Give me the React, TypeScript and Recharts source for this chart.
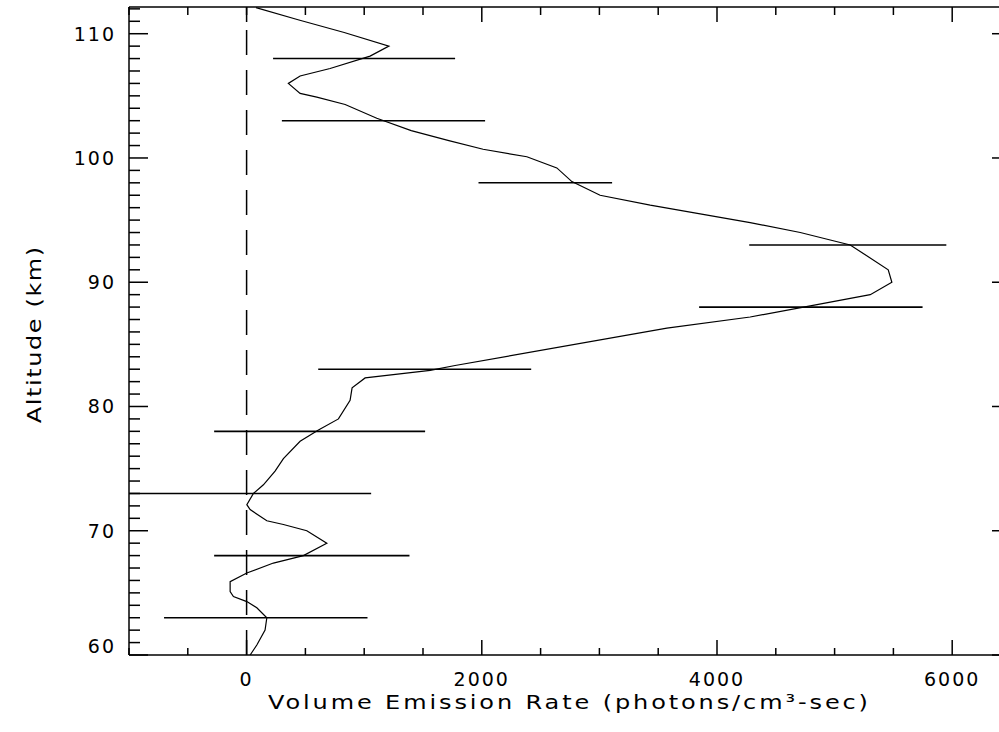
import React from "react"
import { ComposedChart, Scatter, XAxis, YAxis, ReferenceLine } from "recharts"

// volume emission profile, read top to bottom
const altitude = [
  112.1, 111.1, 110.1, 109.0, 108.2, 107.2, 106.6, 106.0, 105.2, 104.9, 104.3, 103.2,
  102.2, 101.4, 100.7, 100.1, 99.2, 98.1, 97.0, 96.2, 95.5, 94.8, 94.0, 93.4, 93.0,
  91.0, 90.0, 89.0, 88.2, 87.2, 86.3, 83.3, 82.9, 82.3, 81.5, 80.5, 79.0, 78.1, 77.2,
  75.8, 74.8, 73.7, 73.0, 72.1, 71.7, 70.8, 70.5, 70.0, 69.0, 68.0, 67.4, 66.6, 65.9,
  65.1, 64.7, 64.3, 63.8, 63.0, 62.0, 60.8, 60.0,
]
const emission = [
  80, 445, 830, 1210, 1050, 710, 455, 355, 455, 597, 838, 1107,
  1400, 1720, 2011, 2383, 2638, 2766, 3006, 3432, 3857, 4282, 4708, 4963, 5133,
  5456, 5487, 5303, 4850, 4282, 3574, 1773, 1561, 1008, 897, 880, 781, 611, 455,
  313, 242, 143, 58, 2, 30, 172, 313, 512, 682, 483, 228, 2, -140,
  -140, -112, 2, 87, 172, 157, 87, 30,
]

// horizontal error bars
const barAltitude = [108, 103, 98, 93, 88, 83, 78, 73, 68, 63]
const barLow = [225, 300, 1972, 4274, 3848, 609, -276, -1100, -276, -702]
const barHigh = [1773, 2028, 3108, 5950, 5748, 2420, 1518, 1059, 1385, 1028]

const xTicks = [-1000, -500, 0, 500, 1000, 1500, 2000, 2500, 3000, 3500, 4000, 4500, 5000, 5500, 6000, 6500]
const yTicks = Array.from({ length: 53 }, (_, i) => 60 + i)

const profile = altitude.map((alt, i) => ({ alt, rate: emission[i] }))

const FONT = "'DejaVu Sans', sans-serif"
const INK = "#000"

const BottomTick = ({ x, y, payload }: any) => {
  const v = payload.value
  const major = v % 2000 === 0
  return (
    <g>
      <line x1={x} x2={x} y1={y} y2={y - (major ? 15 : 7)} stroke={INK} strokeWidth={1.5} />
      {major && (
        <text x={x} y={y + 24} textAnchor="middle" dominantBaseline="central" fontFamily={FONT} fontSize={19} letterSpacing={2} fill={INK}>
          {v}
        </text>
      )}
    </g>
  )
}

const TopTick = ({ x, y, payload }: any) => {
  const major = payload.value % 2000 === 0
  return <line x1={x} x2={x} y1={y} y2={y + (major ? 15 : 8)} stroke={INK} strokeWidth={1.5} />
}

const LeftTick = ({ x, y, payload }: any) => {
  const v = payload.value
  const major = v % 10 === 0
  return (
    <g>
      <line x1={x} x2={x + (major ? 19 : 11)} y1={y} y2={y} stroke={INK} strokeWidth={1.5} />
      {major && (
        <text x={x - 13} y={v === 60 ? y - 9 : y} textAnchor="end" dominantBaseline="central" fontFamily={FONT} fontSize={19} letterSpacing={2} fill={INK}>
          {v}
        </text>
      )}
    </g>
  )
}

const RightTick = ({ x, y, payload }: any) => {
  const major = payload.value % 10 === 0
  return <line x1={x} x2={x - (major ? 19 : 11)} y1={y} y2={y} stroke={INK} strokeWidth={1.5} />
}

const YTitle = () => (
  <text
    transform="translate(34 335) rotate(-90) scale(1.2 1)"
    textAnchor="middle"
    dominantBaseline="central"
    fontFamily={FONT}
    fontSize={20}
    textLength={147}
    lengthAdjust="spacing"
    fill={INK}
  >
    Altitude (km)
  </text>
)

export default function App() {
  return (
    <div style={{ position: "absolute", left: 0, top: 0, width: 999, height: 732, overflow: "hidden", background: "#fff" }}>
      <ComposedChart width={1030} height={732} data={profile} margin={{ top: 6, right: 18, bottom: 0, left: 0 }}>
        <XAxis
          xAxisId={0}
          type="number"
          dataKey="rate"
          domain={[-1000, 6500]}
          allowDataOverflow
          ticks={xTicks}
          interval={0}
          height={77}
          tickSize={0}
          tickMargin={0}
          tickLine={false}
          tick={<BottomTick />}
          axisLine={{ stroke: INK, strokeWidth: 1.5 }}
        />
        <XAxis
          xAxisId="top"
          orientation="top"
          type="number"
          dataKey="rate"
          domain={[-1000, 6500]}
          allowDataOverflow
          ticks={xTicks}
          interval={0}
          height={1}
          tickSize={0}
          tickMargin={0}
          tickLine={false}
          tick={<TopTick />}
          axisLine={{ stroke: INK, strokeWidth: 1.5 }}
        />
        <YAxis
          yAxisId={0}
          type="number"
          dataKey="alt"
          domain={[60, 112.15]}
          allowDataOverflow
          ticks={yTicks}
          interval={0}
          width={129}
          tickSize={0}
          tickMargin={0}
          tickLine={false}
          tick={<LeftTick />}
          axisLine={{ stroke: INK, strokeWidth: 1.5 }}
          label={{ value: "Altitude (km)", content: () => <YTitle /> }}
        />
        <YAxis
          yAxisId="right"
          orientation="right"
          type="number"
          dataKey="alt"
          domain={[60, 112.15]}
          allowDataOverflow
          ticks={yTicks}
          interval={0}
          width={1}
          tickSize={0}
          tickMargin={0}
          tickLine={false}
          tick={<RightTick />}
          axisLine={{ stroke: INK, strokeWidth: 1.5 }}
        />
        <ReferenceLine x={0} stroke={INK} strokeWidth={1.5} strokeDasharray="25 15" ifOverflow="hidden" />
        {barAltitude.map((alt, i) => (
          <ReferenceLine
            key={alt}
            segment={[{ x: barLow[i], y: alt }, { x: barHigh[i], y: alt }]}
            stroke={INK}
            strokeWidth={1.6}
            ifOverflow="hidden"
          />
        ))}
        <Scatter
          data={profile}
          dataKey="rate"
          line={{ stroke: INK, strokeWidth: 1.2 }}
          shape={() => <g />}
          isAnimationActive={false}
        />
        {/* keeps the top and right frame axes attached to a series */}
        <Scatter
          xAxisId="top"
          yAxisId="right"
          data={profile}
          dataKey="rate"
          shape={() => <g />}
          isAnimationActive={false}
        />
        <text
          transform="translate(568 709) scale(1.2 1)"
          textAnchor="middle"
          fontFamily={FONT}
          fontSize={20}
          textLength={500}
          lengthAdjust="spacing"
          fill={INK}
        >
          Volume Emission Rate (photons/cm³-sec)
        </text>
      </ComposedChart>
    </div>
  )
}
